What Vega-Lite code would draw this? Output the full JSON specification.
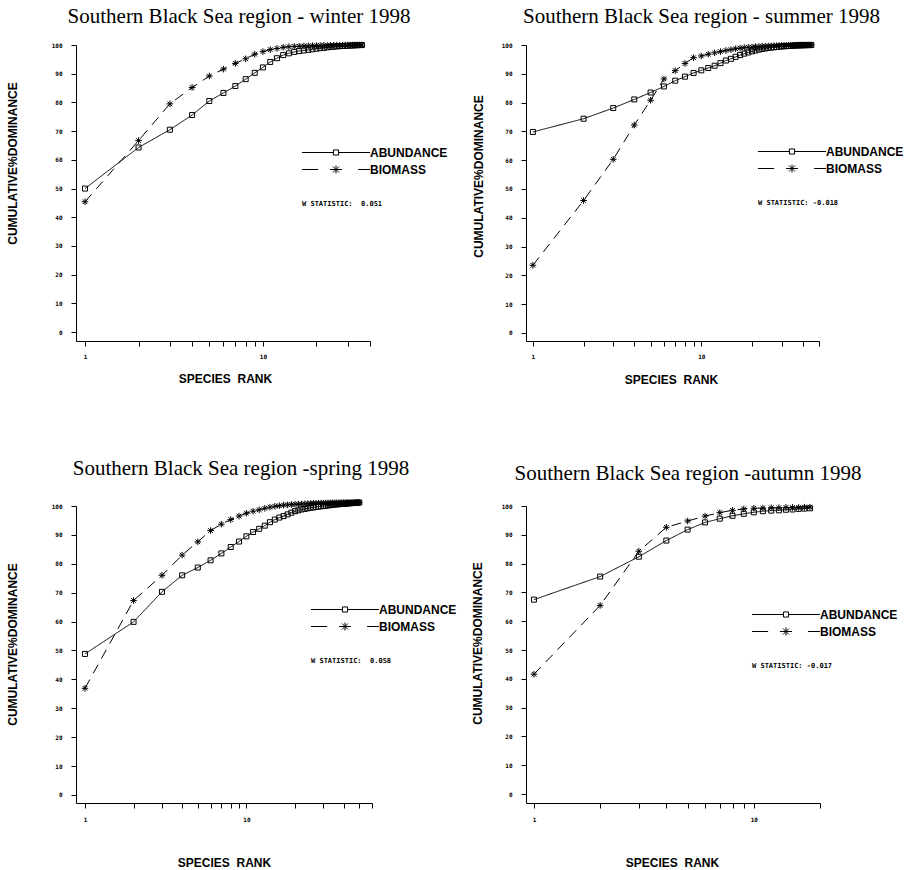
{
"$schema": "https://vega.github.io/schema/vega-lite/v6.json",
"background": "white",
"padding": {"left": 5, "top": 5, "right": 0, "bottom": 0},
"config": {
  "view": {"stroke": null},
  "axis": {"grid": false, "domainColor": "black", "domainWidth": 1, "tickColor": "black", "tickWidth": 1, "tickSize": 5,
    "labelColor": "black", "labelFont": "DejaVu Sans Mono", "labelFontSize": 6, "labelFontWeight": "bold",
    "titleColor": "black", "titleFont": "Liberation Sans", "titleFontSize": 12, "titleFontWeight": "bold",
    "labelOverlap": false, "labelFlush": false},
  "legend": {"padding": 0, "rowPadding": 2, "symbolSize": 289, "symbolOffset": 25, "symbolStrokeWidth": 1, "symbolStrokeColor": "black", "symbolFillColor": "transparent",
    "labelFont": "Liberation Sans", "labelFontSize": 12, "labelFontWeight": "bold", "labelColor": "black", "labelOffset": 25,
    "titleFont": "DejaVu Sans Mono", "titleFontSize": 7, "titleFontWeight": "bold", "titleColor": "black",
    "titleOrient": "bottom", "titleAnchor": "start", "titlePadding": 24, "titleLimit": 300},
  "title": {"font": "Liberation Serif", "fontSize": 21, "fontWeight": "normal", "color": "black", "anchor": "middle"}
},
"datasets": {
"winter": [
{"rank":1,"series":"ABUNDANCE","value":50.0},{"rank":2,"series":"ABUNDANCE","value":64.3},{"rank":3,"series":"ABUNDANCE","value":70.5},{"rank":4,"series":"ABUNDANCE","value":75.6},{"rank":5,"series":"ABUNDANCE","value":80.5},{"rank":6,"series":"ABUNDANCE","value":83.3},{"rank":7,"series":"ABUNDANCE","value":85.7},{"rank":8,"series":"ABUNDANCE","value":88.1},{"rank":9,"series":"ABUNDANCE","value":90.3},{"rank":10,"series":"ABUNDANCE","value":92.2},{"rank":11,"series":"ABUNDANCE","value":94.1},{"rank":12,"series":"ABUNDANCE","value":95.4},{"rank":13,"series":"ABUNDANCE","value":96.5},{"rank":14,"series":"ABUNDANCE","value":97.1},{"rank":15,"series":"ABUNDANCE","value":97.6},{"rank":16,"series":"ABUNDANCE","value":97.9},{"rank":17,"series":"ABUNDANCE","value":98.1},{"rank":18,"series":"ABUNDANCE","value":98.3},{"rank":19,"series":"ABUNDANCE","value":98.5},{"rank":20,"series":"ABUNDANCE","value":98.7},{"rank":21,"series":"ABUNDANCE","value":98.9},{"rank":22,"series":"ABUNDANCE","value":99.0},{"rank":23,"series":"ABUNDANCE","value":99.2},{"rank":24,"series":"ABUNDANCE","value":99.3},{"rank":25,"series":"ABUNDANCE","value":99.4},{"rank":26,"series":"ABUNDANCE","value":99.5},{"rank":27,"series":"ABUNDANCE","value":99.6},{"rank":28,"series":"ABUNDANCE","value":99.65},{"rank":29,"series":"ABUNDANCE","value":99.7},{"rank":30,"series":"ABUNDANCE","value":99.75},{"rank":31,"series":"ABUNDANCE","value":99.8},{"rank":32,"series":"ABUNDANCE","value":99.85},{"rank":33,"series":"ABUNDANCE","value":99.9},{"rank":34,"series":"ABUNDANCE","value":99.95},{"rank":35,"series":"ABUNDANCE","value":99.98},{"rank":36,"series":"ABUNDANCE","value":100},
{"rank":1,"series":"BIOMASS","value":45.4},{"rank":2,"series":"BIOMASS","value":66.7},{"rank":3,"series":"BIOMASS","value":79.5},{"rank":4,"series":"BIOMASS","value":85.2},{"rank":5,"series":"BIOMASS","value":89.2},{"rank":6,"series":"BIOMASS","value":91.6},{"rank":7,"series":"BIOMASS","value":93.6},{"rank":8,"series":"BIOMASS","value":95.2},{"rank":9,"series":"BIOMASS","value":96.8},{"rank":10,"series":"BIOMASS","value":97.7},{"rank":11,"series":"BIOMASS","value":98.4},{"rank":12,"series":"BIOMASS","value":98.8},{"rank":13,"series":"BIOMASS","value":99.2},{"rank":14,"series":"BIOMASS","value":99.4},{"rank":15,"series":"BIOMASS","value":99.5},{"rank":16,"series":"BIOMASS","value":99.6},{"rank":17,"series":"BIOMASS","value":99.65},{"rank":18,"series":"BIOMASS","value":99.7},{"rank":19,"series":"BIOMASS","value":99.75},{"rank":20,"series":"BIOMASS","value":99.8},{"rank":21,"series":"BIOMASS","value":99.82},{"rank":22,"series":"BIOMASS","value":99.85},{"rank":23,"series":"BIOMASS","value":99.87},{"rank":24,"series":"BIOMASS","value":99.9},{"rank":25,"series":"BIOMASS","value":99.91},{"rank":26,"series":"BIOMASS","value":99.92},{"rank":27,"series":"BIOMASS","value":99.93},{"rank":28,"series":"BIOMASS","value":99.94},{"rank":29,"series":"BIOMASS","value":99.95},{"rank":30,"series":"BIOMASS","value":99.96},{"rank":31,"series":"BIOMASS","value":99.97},{"rank":32,"series":"BIOMASS","value":99.98},{"rank":33,"series":"BIOMASS","value":99.99},{"rank":34,"series":"BIOMASS","value":100},{"rank":35,"series":"BIOMASS","value":100},{"rank":36,"series":"BIOMASS","value":100}
],
"summer": [
{"rank":1,"series":"ABUNDANCE","value":69.8},{"rank":2,"series":"ABUNDANCE","value":74.4},{"rank":3,"series":"ABUNDANCE","value":78.1},{"rank":4,"series":"ABUNDANCE","value":81.1},{"rank":5,"series":"ABUNDANCE","value":83.5},{"rank":6,"series":"ABUNDANCE","value":85.6},{"rank":7,"series":"ABUNDANCE","value":87.6},{"rank":8,"series":"ABUNDANCE","value":89.0},{"rank":9,"series":"ABUNDANCE","value":90.3},{"rank":10,"series":"ABUNDANCE","value":91.2},{"rank":11,"series":"ABUNDANCE","value":92.0},{"rank":12,"series":"ABUNDANCE","value":92.8},{"rank":13,"series":"ABUNDANCE","value":93.7},{"rank":14,"series":"ABUNDANCE","value":94.6},{"rank":15,"series":"ABUNDANCE","value":95.2},{"rank":16,"series":"ABUNDANCE","value":95.9},{"rank":17,"series":"ABUNDANCE","value":96.5},{"rank":18,"series":"ABUNDANCE","value":97.0},{"rank":19,"series":"ABUNDANCE","value":97.4},{"rank":20,"series":"ABUNDANCE","value":97.8},{"rank":21,"series":"ABUNDANCE","value":98.1},{"rank":22,"series":"ABUNDANCE","value":98.4},{"rank":23,"series":"ABUNDANCE","value":98.6},{"rank":24,"series":"ABUNDANCE","value":98.8},{"rank":25,"series":"ABUNDANCE","value":99.0},{"rank":26,"series":"ABUNDANCE","value":99.1},{"rank":27,"series":"ABUNDANCE","value":99.2},{"rank":28,"series":"ABUNDANCE","value":99.3},{"rank":29,"series":"ABUNDANCE","value":99.4},{"rank":30,"series":"ABUNDANCE","value":99.5},{"rank":31,"series":"ABUNDANCE","value":99.55},{"rank":32,"series":"ABUNDANCE","value":99.6},{"rank":33,"series":"ABUNDANCE","value":99.65},{"rank":34,"series":"ABUNDANCE","value":99.7},{"rank":35,"series":"ABUNDANCE","value":99.75},{"rank":36,"series":"ABUNDANCE","value":99.8},{"rank":37,"series":"ABUNDANCE","value":99.84},{"rank":38,"series":"ABUNDANCE","value":99.87},{"rank":39,"series":"ABUNDANCE","value":99.9},{"rank":40,"series":"ABUNDANCE","value":99.92},{"rank":41,"series":"ABUNDANCE","value":99.94},{"rank":42,"series":"ABUNDANCE","value":99.96},{"rank":43,"series":"ABUNDANCE","value":99.98},{"rank":44,"series":"ABUNDANCE","value":99.99},{"rank":45,"series":"ABUNDANCE","value":100},
{"rank":1,"series":"BIOMASS","value":23.5},{"rank":2,"series":"BIOMASS","value":46.0},{"rank":3,"series":"BIOMASS","value":60.3},{"rank":4,"series":"BIOMASS","value":72.2},{"rank":5,"series":"BIOMASS","value":80.8},{"rank":6,"series":"BIOMASS","value":88.2},{"rank":7,"series":"BIOMASS","value":91.1},{"rank":8,"series":"BIOMASS","value":93.6},{"rank":9,"series":"BIOMASS","value":95.6},{"rank":10,"series":"BIOMASS","value":96.2},{"rank":11,"series":"BIOMASS","value":96.8},{"rank":12,"series":"BIOMASS","value":97.3},{"rank":13,"series":"BIOMASS","value":97.7},{"rank":14,"series":"BIOMASS","value":98.1},{"rank":15,"series":"BIOMASS","value":98.4},{"rank":16,"series":"BIOMASS","value":98.7},{"rank":17,"series":"BIOMASS","value":98.9},{"rank":18,"series":"BIOMASS","value":99.1},{"rank":19,"series":"BIOMASS","value":99.2},{"rank":20,"series":"BIOMASS","value":99.3},{"rank":21,"series":"BIOMASS","value":99.4},{"rank":22,"series":"BIOMASS","value":99.5},{"rank":23,"series":"BIOMASS","value":99.55},{"rank":24,"series":"BIOMASS","value":99.6},{"rank":25,"series":"BIOMASS","value":99.65},{"rank":26,"series":"BIOMASS","value":99.7},{"rank":27,"series":"BIOMASS","value":99.74},{"rank":28,"series":"BIOMASS","value":99.78},{"rank":29,"series":"BIOMASS","value":99.81},{"rank":30,"series":"BIOMASS","value":99.84},{"rank":31,"series":"BIOMASS","value":99.86},{"rank":32,"series":"BIOMASS","value":99.88},{"rank":33,"series":"BIOMASS","value":99.9},{"rank":34,"series":"BIOMASS","value":99.92},{"rank":35,"series":"BIOMASS","value":99.93},{"rank":36,"series":"BIOMASS","value":99.94},{"rank":37,"series":"BIOMASS","value":99.95},{"rank":38,"series":"BIOMASS","value":99.96},{"rank":39,"series":"BIOMASS","value":99.97},{"rank":40,"series":"BIOMASS","value":99.98},{"rank":41,"series":"BIOMASS","value":99.98},{"rank":42,"series":"BIOMASS","value":99.99},{"rank":43,"series":"BIOMASS","value":99.99},{"rank":44,"series":"BIOMASS","value":100},{"rank":45,"series":"BIOMASS","value":100}
],
"spring": [
{"rank":1,"series":"ABUNDANCE","value":48.8},{"rank":2,"series":"ABUNDANCE","value":59.9},{"rank":3,"series":"ABUNDANCE","value":70.3},{"rank":4,"series":"ABUNDANCE","value":76.0},{"rank":5,"series":"ABUNDANCE","value":78.7},{"rank":6,"series":"ABUNDANCE","value":81.2},{"rank":7,"series":"ABUNDANCE","value":83.6},{"rank":8,"series":"ABUNDANCE","value":85.8},{"rank":9,"series":"ABUNDANCE","value":87.7},{"rank":10,"series":"ABUNDANCE","value":89.5},{"rank":11,"series":"ABUNDANCE","value":91.0},{"rank":12,"series":"ABUNDANCE","value":92.1},{"rank":13,"series":"ABUNDANCE","value":93.2},{"rank":14,"series":"ABUNDANCE","value":94.4},{"rank":15,"series":"ABUNDANCE","value":95.3},{"rank":16,"series":"ABUNDANCE","value":96.0},{"rank":17,"series":"ABUNDANCE","value":96.5},{"rank":18,"series":"ABUNDANCE","value":97.1},{"rank":19,"series":"ABUNDANCE","value":97.7},{"rank":20,"series":"ABUNDANCE","value":98.2},{"rank":21,"series":"ABUNDANCE","value":98.5},{"rank":22,"series":"ABUNDANCE","value":98.8},{"rank":23,"series":"ABUNDANCE","value":99.0},{"rank":24,"series":"ABUNDANCE","value":99.2},{"rank":25,"series":"ABUNDANCE","value":99.4},{"rank":26,"series":"ABUNDANCE","value":99.5},{"rank":27,"series":"ABUNDANCE","value":99.65},{"rank":28,"series":"ABUNDANCE","value":99.8},{"rank":29,"series":"ABUNDANCE","value":99.9},{"rank":30,"series":"ABUNDANCE","value":100.0},{"rank":31,"series":"ABUNDANCE","value":100.1},{"rank":32,"series":"ABUNDANCE","value":100.2},{"rank":33,"series":"ABUNDANCE","value":100.3},{"rank":34,"series":"ABUNDANCE","value":100.4},{"rank":35,"series":"ABUNDANCE","value":100.5},{"rank":36,"series":"ABUNDANCE","value":100.55},{"rank":37,"series":"ABUNDANCE","value":100.6},{"rank":38,"series":"ABUNDANCE","value":100.65},{"rank":39,"series":"ABUNDANCE","value":100.7},{"rank":40,"series":"ABUNDANCE","value":100.75},{"rank":41,"series":"ABUNDANCE","value":100.8},{"rank":42,"series":"ABUNDANCE","value":100.85},{"rank":43,"series":"ABUNDANCE","value":100.9},{"rank":44,"series":"ABUNDANCE","value":100.95},{"rank":45,"series":"ABUNDANCE","value":101.0},{"rank":46,"series":"ABUNDANCE","value":101.05},{"rank":47,"series":"ABUNDANCE","value":101.1},{"rank":48,"series":"ABUNDANCE","value":101.1},{"rank":49,"series":"ABUNDANCE","value":101.15},{"rank":50,"series":"ABUNDANCE","value":101.2},
{"rank":1,"series":"BIOMASS","value":36.9},{"rank":2,"series":"BIOMASS","value":67.3},{"rank":3,"series":"BIOMASS","value":76.0},{"rank":4,"series":"BIOMASS","value":83.0},{"rank":5,"series":"BIOMASS","value":87.6},{"rank":6,"series":"BIOMASS","value":91.5},{"rank":7,"series":"BIOMASS","value":93.7},{"rank":8,"series":"BIOMASS","value":95.3},{"rank":9,"series":"BIOMASS","value":96.5},{"rank":10,"series":"BIOMASS","value":97.5},{"rank":11,"series":"BIOMASS","value":98.2},{"rank":12,"series":"BIOMASS","value":98.7},{"rank":13,"series":"BIOMASS","value":99.2},{"rank":14,"series":"BIOMASS","value":99.6},{"rank":15,"series":"BIOMASS","value":99.9},{"rank":16,"series":"BIOMASS","value":100.1},{"rank":17,"series":"BIOMASS","value":100.3},{"rank":18,"series":"BIOMASS","value":100.4},{"rank":19,"series":"BIOMASS","value":100.5},{"rank":20,"series":"BIOMASS","value":100.6},{"rank":21,"series":"BIOMASS","value":100.65},{"rank":22,"series":"BIOMASS","value":100.7},{"rank":23,"series":"BIOMASS","value":100.75},{"rank":24,"series":"BIOMASS","value":100.8},{"rank":25,"series":"BIOMASS","value":100.85},{"rank":26,"series":"BIOMASS","value":100.9},{"rank":27,"series":"BIOMASS","value":100.92},{"rank":28,"series":"BIOMASS","value":100.95},{"rank":29,"series":"BIOMASS","value":100.97},{"rank":30,"series":"BIOMASS","value":101.0},{"rank":31,"series":"BIOMASS","value":101.02},{"rank":32,"series":"BIOMASS","value":101.04},{"rank":33,"series":"BIOMASS","value":101.06},{"rank":34,"series":"BIOMASS","value":101.08},{"rank":35,"series":"BIOMASS","value":101.1},{"rank":36,"series":"BIOMASS","value":101.11},{"rank":37,"series":"BIOMASS","value":101.12},{"rank":38,"series":"BIOMASS","value":101.13},{"rank":39,"series":"BIOMASS","value":101.14},{"rank":40,"series":"BIOMASS","value":101.15},{"rank":41,"series":"BIOMASS","value":101.16},{"rank":42,"series":"BIOMASS","value":101.17},{"rank":43,"series":"BIOMASS","value":101.18},{"rank":44,"series":"BIOMASS","value":101.18},{"rank":45,"series":"BIOMASS","value":101.19},{"rank":46,"series":"BIOMASS","value":101.19},{"rank":47,"series":"BIOMASS","value":101.2},{"rank":48,"series":"BIOMASS","value":101.2},{"rank":49,"series":"BIOMASS","value":101.2},{"rank":50,"series":"BIOMASS","value":101.2}
],
"autumn": [
{"rank":1,"series":"ABUNDANCE","value":67.5},{"rank":2,"series":"ABUNDANCE","value":75.5},{"rank":3,"series":"ABUNDANCE","value":82.4},{"rank":4,"series":"ABUNDANCE","value":88.0},{"rank":5,"series":"ABUNDANCE","value":91.8},{"rank":6,"series":"ABUNDANCE","value":94.3},{"rank":7,"series":"ABUNDANCE","value":95.6},{"rank":8,"series":"ABUNDANCE","value":96.6},{"rank":9,"series":"ABUNDANCE","value":97.3},{"rank":10,"series":"ABUNDANCE","value":97.8},{"rank":11,"series":"ABUNDANCE","value":98.2},{"rank":12,"series":"ABUNDANCE","value":98.4},{"rank":13,"series":"ABUNDANCE","value":98.5},{"rank":14,"series":"ABUNDANCE","value":98.7},{"rank":15,"series":"ABUNDANCE","value":98.8},{"rank":16,"series":"ABUNDANCE","value":99.0},{"rank":17,"series":"ABUNDANCE","value":99.1},{"rank":18,"series":"ABUNDANCE","value":99.2},
{"rank":1,"series":"BIOMASS","value":41.6},{"rank":2,"series":"BIOMASS","value":65.5},{"rank":3,"series":"BIOMASS","value":84.3},{"rank":4,"series":"BIOMASS","value":92.6},{"rank":5,"series":"BIOMASS","value":94.8},{"rank":6,"series":"BIOMASS","value":96.5},{"rank":7,"series":"BIOMASS","value":97.7},{"rank":8,"series":"BIOMASS","value":98.5},{"rank":9,"series":"BIOMASS","value":99.0},{"rank":10,"series":"BIOMASS","value":99.2},{"rank":11,"series":"BIOMASS","value":99.3},{"rank":12,"series":"BIOMASS","value":99.4},{"rank":13,"series":"BIOMASS","value":99.4},{"rank":14,"series":"BIOMASS","value":99.5},{"rank":15,"series":"BIOMASS","value":99.5},{"rank":16,"series":"BIOMASS","value":99.5},{"rank":17,"series":"BIOMASS","value":99.6},{"rank":18,"series":"BIOMASS","value":99.6}
]
},
"columns": 2,
"spacing": {"column": 154, "row": 165},
"bounds": "flush",
"resolve": {"scale": {"shape": "independent"}, "legend": {"shape": "independent"}},
"concat": [
  {"data": {"name": "winter"}, "width": 294, "height": 296,
   "title": {"text": "Southern Black Sea region - winter 1998", "dx": 16, "offset": 13},
   "encoding": {
      "x": {"field": "rank", "type": "quantitative", "scale": {"type": "log", "domain": [0.89, 40], "nice": false},
        "axis": {"values": [1,2,3,4,5,6,7,8,9,10,20,30,40], "tickCount": 40, "labelExpr": "datum.value == 1 ? '1' : datum.value == 10 ? '10' : ''", "labelPadding": 7, "labelOverlap": false,
          "title": "SPECIES\u00a0 RANK", "titleX": 149, "titleY": 37, "titleAlign": "center", "titleBaseline": "middle",
          "encode": {"ticks": {"y": {"value": -4}}}}},
      "y": {"field": "value", "type": "quantitative", "scale": {"domain": [-3.1, 100], "nice": false, "zero": false},
        "axis": {"values": [0,10,20,30,40,50,60,70,80,90,100], "tickCount": 40, "labelPadding": 9, "labelOverlap": false,
          "title": "CUMULATIVE%DOMINANCE", "titleX": -64, "titleY": 118, "titleAngle": -90, "titleAlign": "center", "titleBaseline": "middle",
          "encode": {"ticks": {"x": {"value": 5}}}}}
   },
   "layer": [
    {"mark": {"type": "line", "color": "black", "strokeWidth": 1},
     "encoding": {"detail": {"field": "series", "type": "nominal"},
      "strokeDash": {"condition": {"test": "datum.series === 'BIOMASS'", "value": [10, 7]}, "value": [1, 0]}}},
    {"transform": [{"filter": "datum.series === 'ABUNDANCE'"}],
     "mark": {"type": "point", "shape": "square", "filled": false, "color": "black", "strokeWidth": 1, "opacity": 1, "size": 25}, "encoding": {}},
    {"transform": [{"filter": "datum.series === 'BIOMASS'"}],
     "mark": {"type": "point", "shape": "M-1.2,0H1.2M0,-1.2V1.2M-0.85,-0.85L0.85,0.85M-0.85,0.85L0.85,-0.85", "filled": false, "color": "black", "strokeWidth": 1, "opacity": 1, "size": 30}, "encoding": {}},
    {"transform": [{"filter": "datum.rank < 0"}],
     "mark": {"type": "point", "filled": false, "color": "black", "strokeWidth": 1, "opacity": 1},
     "encoding": {"shape": {"field": "series", "type": "nominal", "scale": {"domain": ["ABUNDANCE", "BIOMASS"], "range": ["M-4,0H-0.3M0.3,0H4M-0.3,-0.3H0.3V0.3H-0.3Z", "M-4,0H-2.1M2.6,0H4M-0.7,0H0.7M0,-0.47V0.47M-0.35,-0.35L0.35,0.35M-0.35,0.35L0.35,-0.35"]},
        "legend": {"orient": "none", "legendX": 226, "legendY": 98.5, "title": "W STATISTIC:\u00a0 0.051"}}}}
   ]},
  {"data": {"name": "summer"}, "width": 293, "height": 296,
   "title": {"text": "Southern Black Sea region - summer 1998", "dx": 29, "offset": 13},
   "encoding": {
      "x": {"field": "rank", "type": "quantitative", "scale": {"type": "log", "domain": [0.91, 50], "nice": false},
        "axis": {"values": [1,2,3,4,5,6,7,8,9,10,20,30,40,50], "tickCount": 40, "labelExpr": "datum.value == 1 ? '1' : datum.value == 10 ? '10' : ''", "labelPadding": 7, "labelOverlap": false,
          "title": "SPECIES\u00a0 RANK", "titleX": 145, "titleY": 38, "titleAlign": "center", "titleBaseline": "middle",
          "encode": {"ticks": {"y": {"value": -4}}}}},
      "y": {"field": "value", "type": "quantitative", "scale": {"domain": [-2.8, 100], "nice": false, "zero": false},
        "axis": {"values": [0,10,20,30,40,50,60,70,80,90,100], "tickCount": 40, "labelPadding": 9, "labelOverlap": false,
          "title": "CUMULATIVE%DOMINANCE", "titleX": -48, "titleY": 131, "titleAngle": -90, "titleAlign": "center", "titleBaseline": "middle",
          "encode": {"ticks": {"x": {"value": 5}}}}}
   },
   "layer": [
    {"mark": {"type": "line", "color": "black", "strokeWidth": 1},
     "encoding": {"detail": {"field": "series", "type": "nominal"},
      "strokeDash": {"condition": {"test": "datum.series === 'BIOMASS'", "value": [10, 7]}, "value": [1, 0]}}},
    {"transform": [{"filter": "datum.series === 'ABUNDANCE'"}],
     "mark": {"type": "point", "shape": "square", "filled": false, "color": "black", "strokeWidth": 1, "opacity": 1, "size": 25}, "encoding": {}},
    {"transform": [{"filter": "datum.series === 'BIOMASS'"}],
     "mark": {"type": "point", "shape": "M-1.2,0H1.2M0,-1.2V1.2M-0.85,-0.85L0.85,0.85M-0.85,0.85L0.85,-0.85", "filled": false, "color": "black", "strokeWidth": 1, "opacity": 1, "size": 30}, "encoding": {}},
    {"transform": [{"filter": "datum.rank < 0"}],
     "mark": {"type": "point", "filled": false, "color": "black", "strokeWidth": 1, "opacity": 1},
     "encoding": {"shape": {"field": "series", "type": "nominal", "scale": {"domain": ["ABUNDANCE", "BIOMASS"], "range": ["M-4,0H-0.3M0.3,0H4M-0.3,-0.3H0.3V0.3H-0.3Z", "M-4,0H-2.1M2.6,0H4M-0.7,0H0.7M0,-0.47V0.47M-0.35,-0.35L0.35,0.35M-0.35,0.35L0.35,-0.35"]},
        "legend": {"orient": "none", "legendX": 232, "legendY": 97.5, "title": "W STATISTIC: -0.018"}}}}
   ]},
  {"data": {"name": "spring"}, "width": 296, "height": 297,
   "title": {"text": "Southern Black Sea region -spring 1998", "dx": 17, "offset": 18},
   "encoding": {
      "x": {"field": "rank", "type": "quantitative", "scale": {"type": "log", "domain": [0.88, 60], "nice": false},
        "axis": {"values": [1,2,3,4,5,6,7,8,9,10,20,30,40,50,60], "tickCount": 40, "labelExpr": "datum.value == 1 ? '1' : datum.value == 10 ? '10' : ''", "labelPadding": 8, "labelOverlap": false,
          "title": "SPECIES\u00a0 RANK", "titleX": 148, "titleY": 59, "titleAlign": "center", "titleBaseline": "middle",
          "encode": {"ticks": {"y": {"value": -4}}}}},
      "y": {"field": "value", "type": "quantitative", "scale": {"domain": [-2.8, 100], "nice": false, "zero": false},
        "axis": {"values": [0,10,20,30,40,50,60,70,80,90,100], "tickCount": 40, "labelPadding": 9, "labelOverlap": false,
          "title": "CUMULATIVE%DOMINANCE", "titleX": -64, "titleY": 138, "titleAngle": -90, "titleAlign": "center", "titleBaseline": "middle",
          "encode": {"ticks": {"x": {"value": 5}}}}}
   },
   "layer": [
    {"mark": {"type": "line", "color": "black", "strokeWidth": 1},
     "encoding": {"detail": {"field": "series", "type": "nominal"},
      "strokeDash": {"condition": {"test": "datum.series === 'BIOMASS'", "value": [10, 7]}, "value": [1, 0]}}},
    {"transform": [{"filter": "datum.series === 'ABUNDANCE'"}],
     "mark": {"type": "point", "shape": "square", "filled": false, "color": "black", "strokeWidth": 1, "opacity": 1, "size": 25}, "encoding": {}},
    {"transform": [{"filter": "datum.series === 'BIOMASS'"}],
     "mark": {"type": "point", "shape": "M-1.2,0H1.2M0,-1.2V1.2M-0.85,-0.85L0.85,0.85M-0.85,0.85L0.85,-0.85", "filled": false, "color": "black", "strokeWidth": 1, "opacity": 1, "size": 30}, "encoding": {}},
    {"transform": [{"filter": "datum.rank < 0"}],
     "mark": {"type": "point", "filled": false, "color": "black", "strokeWidth": 1, "opacity": 1},
     "encoding": {"shape": {"field": "series", "type": "nominal", "scale": {"domain": ["ABUNDANCE", "BIOMASS"], "range": ["M-4,0H-0.3M0.3,0H4M-0.3,-0.3H0.3V0.3H-0.3Z", "M-4,0H-2.1M2.6,0H4M-0.7,0H0.7M0,-0.47V0.47M-0.35,-0.35L0.35,0.35M-0.35,0.35L0.35,-0.35"]},
        "legend": {"orient": "none", "legendX": 235, "legendY": 94.5, "title": "W STATISTIC:\u00a0 0.058"}}}}
   ]},
  {"data": {"name": "autumn"}, "width": 294, "height": 297,
   "title": {"text": "Southern Black Sea region -autumn 1998", "dx": 15, "offset": 18},
   "encoding": {
      "x": {"field": "rank", "type": "quantitative", "scale": {"type": "log", "domain": [0.92, 20], "nice": false},
        "axis": {"values": [1,2,3,4,5,6,7,8,9,10,20], "tickCount": 40, "labelExpr": "datum.value == 1 ? '1' : datum.value == 10 ? '10' : ''", "labelPadding": 8, "labelOverlap": false,
          "title": "SPECIES\u00a0 RANK", "titleX": 146, "titleY": 59, "titleAlign": "center", "titleBaseline": "middle",
          "encode": {"ticks": {"y": {"value": -4}}}}},
      "y": {"field": "value", "type": "quantitative", "scale": {"domain": [-3.1, 100], "nice": false, "zero": false},
        "axis": {"values": [0,10,20,30,40,50,60,70,80,90,100], "tickCount": 40, "labelPadding": 9, "labelOverlap": false,
          "title": "CUMULATIVE%DOMINANCE", "titleX": -49, "titleY": 137, "titleAngle": -90, "titleAlign": "center", "titleBaseline": "middle",
          "encode": {"ticks": {"x": {"value": 5}}}}}
   },
   "layer": [
    {"mark": {"type": "line", "color": "black", "strokeWidth": 1},
     "encoding": {"detail": {"field": "series", "type": "nominal"},
      "strokeDash": {"condition": {"test": "datum.series === 'BIOMASS'", "value": [10, 7]}, "value": [1, 0]}}},
    {"transform": [{"filter": "datum.series === 'ABUNDANCE'"}],
     "mark": {"type": "point", "shape": "square", "filled": false, "color": "black", "strokeWidth": 1, "opacity": 1, "size": 25}, "encoding": {}},
    {"transform": [{"filter": "datum.series === 'BIOMASS'"}],
     "mark": {"type": "point", "shape": "M-1.2,0H1.2M0,-1.2V1.2M-0.85,-0.85L0.85,0.85M-0.85,0.85L0.85,-0.85", "filled": false, "color": "black", "strokeWidth": 1, "opacity": 1, "size": 30}, "encoding": {}},
    {"transform": [{"filter": "datum.rank < 0"}],
     "mark": {"type": "point", "filled": false, "color": "black", "strokeWidth": 1, "opacity": 1},
     "encoding": {"shape": {"field": "series", "type": "nominal", "scale": {"domain": ["ABUNDANCE", "BIOMASS"], "range": ["M-4,0H-0.3M0.3,0H4M-0.3,-0.3H0.3V0.3H-0.3Z", "M-4,0H-2.1M2.6,0H4M-0.7,0H0.7M0,-0.47V0.47M-0.35,-0.35L0.35,0.35M-0.35,0.35L0.35,-0.35"]},
        "legend": {"orient": "none", "legendX": 226, "legendY": 99.5, "title": "W STATISTIC: -0.017"}}}}
   ]}
]
}
